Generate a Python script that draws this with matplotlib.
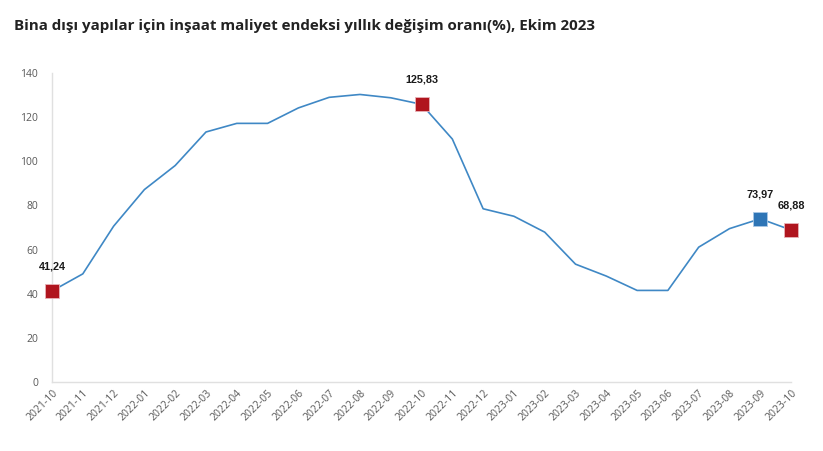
import matplotlib
matplotlib.use("Agg")
import matplotlib.pyplot as plt

# Aylar ve yillik degisim orani (%)
months = ["2021-10", "2021-11", "2021-12", "2022-01", "2022-02", "2022-03",
          "2022-04", "2022-05", "2022-06", "2022-07", "2022-08", "2022-09",
          "2022-10", "2022-11", "2022-12", "2023-01", "2023-02", "2023-03",
          "2023-04", "2023-05", "2023-06", "2023-07", "2023-08", "2023-09",
          "2023-10"]
values = [41.24, 49.0, 70.6, 87.2, 98.1, 113.3, 117.2, 117.2, 124.2, 129.0,
          130.3, 128.8, 125.83, 110.1, 78.5, 75.1, 67.9, 53.4, 48.0, 41.5,
          41.5, 61.1, 69.5, 73.97, 68.88]
yticks = [0, 20, 40, 60, 80, 100, 120, 140]

# highlighted points: (index, colour)
highlights = [(0, "#B0151E"), (12, "#B0151E"), (23, "#2E75B6"), (24, "#B0151E")]


def main():
    fig = plt.figure(figsize=(8.23, 4.51), dpi=100)
    ax = fig.add_axes([0.0632, 0.153, 0.898, 0.685])

    x = list(range(len(months)))
    ax.plot(x, values, color="#3F88C5", linewidth=1.2, zorder=2)

    for i, col in highlights:
        ax.plot(x[i], values[i], marker="s", markersize=9.5, color=col,
                markeredgecolor="#E8B4B8" if col != "#2E75B6" else "#A9C8E6",
                markeredgewidth=0.6, zorder=3, clip_on=False)
        label = "{:.2f}".format(values[i]).replace(".", ",")
        ax.annotate(label, (x[i], values[i]), xytext=(0, 14),
                    textcoords="offset points", ha="center", va="bottom",
                    fontsize=7.8, fontweight="bold", family="Liberation Sans",
                    color="#1a1a1a")

    ax.set_xlim(0, len(months) - 1)
    ax.set_ylim(0, 140)
    ax.set_xticks(x)
    ax.set_xticklabels(months, rotation=45, ha="right", rotation_mode="anchor",
                       fontsize=7.5, color="#595959", family="Open Sans")
    ax.set_yticks(yticks)
    ax.set_yticklabels([str(v) for v in yticks], fontsize=7.5, color="#595959",
                       family="Open Sans")
    ax.tick_params(axis="both", length=0)
    ax.tick_params(axis="y", pad=10)
    ax.tick_params(axis="x", pad=4)

    for side in ["top", "right"]:
        ax.spines[side].set_visible(False)
    for side in ["left", "bottom"]:
        ax.spines[side].set_color("#E0E0E0")
        ax.spines[side].set_linewidth(1.0)

    fig.text(0.017, 0.942, "Bina dışı yapılar için inşaat maliyet endeksi yıllık değişim oranı(%), Ekim 2023",
             fontsize=10.9, fontweight="bold", color="#222222", family="Open Sans",
             va="center", ha="left")

    fig.savefig("out.png", dpi=100)


if __name__ == "__main__":
    main()
